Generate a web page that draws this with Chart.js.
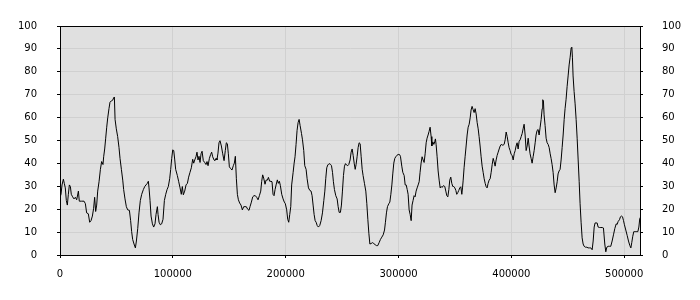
<!DOCTYPE html>
<html>
<head>
<meta charset="utf-8">
<script src="https://cdn.jsdelivr.net/npm/chart.js@4/dist/chart.umd.min.js"></script>
<style>
  html, body { margin: 0; padding: 0; background: #fff; }
  #wrap { width: 700px; height: 300px; position: relative; }
</style>
</head>
<body>
<div id="wrap"><canvas id="chart"></canvas></div>
<script>
// x positions of the samples, in thousands
const positionsK = [
  0,0.9,1.8,3.0,3.8,4.7,5.6,6.5,7.4,8.3,9.2,10.0,11.2,12.4,13.6,14.8,16.3,17.1,19.2,21.3,
  22.5,23.6,25.1,26.3,27.5,28.7,29.8,30.7,31.6,32.5,33.4,34.6,35.8,36.9,38.1,38.7,39.6,40.5,41.4,42.3,
  43.4,44.3,45.5,46.7,47.6,48.2,48.8,49.9,51.1,52.3,53.2,54.4,55.6,56.4,57.6,58.8,60.0,61.5,62.6,63.5,
  64.4,65.6,66.8,67.7,68.9,70.0,71.2,72.4,73.9,75.1,76.2,77.4,78.3,78.9,79.8,80.7,81.9,83.0,84.2,85.1,
  86.3,86.9,87.8,88.9,90.1,91.3,92.5,93.7,94.9,96.0,97.2,98.1,99.0,99.9,100.8,101.7,102.5,
  104.0,105.2,106.4,107.5,108.4,109.3,110.5,111.7,112.9,
  114.0,115.2,116.4,117.6,118.5,119.4,120.5,121.4,122.3,123.2,124.1,125.0,125.9,127.0,128.2,129.4,130.3,131.2,132.4,133.5,
  134.4,135.3,136.5,137.4,138.3,139.1,140.0,140.9,141.8,143.0,144.2,145.4,146.5,147.4,148.3,149.2,150.1,151.3,152.4,153.6,
  154.5,155.4,156.3,157.2,158.1,159.2,160.4,161.6,162.8,164.0,165.1,166.3,167.5,168.4,169.6,170.8,171.9,173.1,174.3,175.5,
  176.7,177.9,178.7,179.6,180.5,181.7,182.6,183.8,184.7,185.8,187.0,187.9,188.8,189.7,190.6,191.5,192.6,193.5,194.4,195.3,
  196.5,197.7,198.8,199.7,200.9,201.8,202.7,203.6,204.5,205.3,
  206.6,207.5,208.3,209.2,210.1,211.0,211.9,212.8,214.0,
  214.9,216.0,216.9,218.1,219.0,220.2,221.4,222.5,223.4,224.3,225.2,226.1,227.0,227.9,229.0,230.2,231.4,232.6,233.8,234.7,
  235.5,236.4,237.3,238.5,239.7,240.6,241.5,242.3,243.2,244.4,245.6,246.5,247.4,248.5,249.4,250.3,251.2,252.1,253.0,253.9,
  255.0,255.9,257.1,258.0,258.9,259.8,260.7,261.6,262.4,263.3,264.2,265.1,266.0,266.9,267.8,268.6,269.8,271.0,271.9,272.8,
  273.7,274.6,275.7,276.9,278.1,279.3,280.5,281.6,282.8,284.0,285.2,286.4,287.6,288.4,289.3,290.2,291.4,292.3,293.2,294.1,
  294.9,295.8,296.7,297.6,298.5,299.7,300.8,301.7,302.9,303.8,305.0,305.9,306.8,307.7,308.5,
  309.4,310.3,311.2,312.0,312.9,313.8,314.7,315.6,316.5,
  317.4,318.3,319.1,320.0,320.9,321.8,322.7,323.6,324.5,325.3,326.2,327.1,328.0,328.9,329.5,330.4,331.3,332.1,332.7,333.3,
  334.2,335.1,336.0,336.9,337.8,338.6,339.8,341.0,341.9,342.8,343.7,344.6,345.4,346.3,347.2,348.1,349.0,349.9,350.8,351.6,
  352.5,353.4,354.3,355.2,356.1,356.7,357.3,358.1,359.0,359.9,360.8,361.7,362.6,363.5,364.3,365.2,366.1,367.0,367.9,368.8,
  369.7,370.6,371.4,372.3,373.2,374.1,375.0,375.9,376.8,377.6,378.5,379.4,380.3,381.2,382.1,383.0,383.9,384.7,385.6,386.5,
  387.4,388.3,389.2,390.1,391.0,391.8,392.7,393.6,394.5,395.4,396.3,397.2,398.0,398.9,399.8,400.7,401.6,402.5,403.4,404.2,
  405.1,406.0,406.9,407.8,408.7,409.6,410.4,411.3,
  412.2,413.1,414.0,414.9,415.7,416.6,417.5,418.4,419.3,
  420.2,421.1,421.9,422.8,423.7,424.6,425.5,426.4,427.3,427.8,428.4,429.0,429.9,430.8,431.7,432.6,433.5,434.4,435.2,436.1,
  437.0,437.9,438.8,439.7,440.6,441.4,442.3,443.2,444.1,445.0,445.9,446.8,447.6,448.5,449.4,450.3,451.2,452.1,453.0,453.6,
  454.1,454.7,455.6,456.5,457.4,458.3,459.2,460.1,460.9,461.8,462.7,463.6,464.5,465.7,466.9,468.0,469.2,470.4,471.6,472.5,
  473.4,474.2,475.1,476.0,476.9,478.1,479.3,480.5,481.6,482.8,483.7,484.6,485.8,487.0,488.1,489.3,490.5,491.7,492.9,493.7,
  494.6,495.8,496.7,497.6,498.5,499.4,500.2,501.4,502.6,503.8,505.0,505.9,506.7,507.6,508.5,509.4,510.3,511.2,512.1,513.0,
  513.8,514.0
];

// measured level (0..100) at each position
const levels = [
  25.2,26.5,30.6,33.1,31.3,29.3,23.8,21.8,26.5,30.6,29.9,26.5,25.4,24.5,25.2,24.1,27.9,23.5,23.5,23.5,
  22.4,18.4,18.0,14.3,15.0,17.0,20.4,25.2,19.0,21.8,27.9,32.0,37.4,40.8,39.5,42.9,46.3,51.0,55.8,59.9,
  63.9,66.7,67.3,67.6,68.7,69.0,59.2,55.1,51.7,46.9,42.2,37.4,32.7,28.6,24.5,21.1,19.7,19.5,15.0,10.2,
  6.8,4.8,3.1,6.1,11.6,18.4,23.8,26.5,28.6,29.9,30.6,31.3,32.2,29.3,23.8,17.0,13.6,12.2,13.6,17.7,
  21.1,17.7,14.3,13.2,13.6,15.6,23.8,26.5,28.6,29.9,33.3,37.4,42.2,45.9,45.6,41.5,37.4,
  34.7,32.0,29.3,26.5,29.9,26.3,27.9,30.6,31.3,
  34.0,36.1,38.1,41.8,40.1,41.5,42.9,44.9,41.5,43.1,40.4,44.2,45.3,41.2,40.4,39.5,40.8,39.0,42.2,43.9,
  44.9,42.9,41.5,41.2,42.2,41.5,44.5,49.0,49.9,47.6,44.2,41.2,45.6,49.0,48.6,44.2,38.5,37.7,37.1,39.0,
  40.1,43.1,33.3,26.5,24.1,22.7,21.8,19.7,21.1,21.1,21.1,20.0,19.5,21.1,23.1,25.4,25.9,25.9,25.2,24.1,
  25.9,27.9,32.0,35.0,33.6,30.9,32.7,32.7,33.9,32.2,32.2,32.0,26.5,25.9,28.6,30.6,32.8,31.3,32.2,30.3,
  26.5,24.5,23.1,22.4,19.7,15.6,14.3,17.7,21.1,30.6,
  36.1,40.1,42.9,48.3,54.4,57.8,59.2,56.5,53.1,
  50.3,45.6,39.0,37.4,33.3,29.3,28.2,27.9,25.9,21.8,17.7,15.0,14.3,12.9,12.2,12.9,15.0,18.4,23.8,27.9,
  33.3,38.1,39.3,39.9,39.6,39.0,36.1,32.0,28.6,25.9,24.5,21.1,18.6,18.6,21.8,27.9,34.7,38.8,39.9,39.3,
  39.0,39.5,41.5,44.9,46.3,43.5,40.1,37.4,39.5,42.9,46.9,49.0,48.6,42.9,37.4,34.7,31.3,27.9,22.4,15.6,
  9.5,4.8,5.0,5.4,5.0,4.5,4.1,4.1,5.4,6.8,7.8,8.8,10.9,14.3,18.4,21.1,22.4,23.1,26.5,30.6,
  35.4,40.1,42.2,42.9,43.5,43.9,43.9,43.1,38.8,36.1,34.7,30.6,30.6,28.6,26.5,
  19.7,17.7,15.0,21.8,23.8,25.9,25.4,27.9,29.3,
  30.6,32.0,36.1,40.1,42.9,41.5,40.4,44.2,49.0,51.0,52.4,54.0,55.8,51.7,47.6,49.4,48.3,49.4,50.7,48.3,
  42.9,36.7,32.7,29.3,29.9,29.5,30.3,29.9,27.9,25.9,25.4,28.6,32.7,34.0,31.3,29.9,29.9,29.3,28.2,26.5,
  27.2,28.2,29.3,29.8,26.5,29.3,32.7,38.1,42.9,47.6,52.4,55.8,57.1,59.9,63.3,64.9,63.5,62.2,63.9,61.6,
  57.8,55.1,51.7,47.6,42.9,38.8,36.1,33.3,31.3,29.9,29.3,31.3,32.7,33.3,36.1,39.5,42.2,40.8,38.8,41.5,
  43.5,44.9,46.3,47.6,48.3,48.0,48.0,48.3,50.3,53.7,51.7,49.0,46.9,45.6,43.9,43.5,41.5,44.2,45.6,47.6,
  49.0,46.3,49.7,50.3,51.7,53.1,55.1,57.1,
  52.4,45.6,47.6,51.0,47.6,44.2,42.2,40.1,42.9,
  45.6,49.0,52.4,54.4,54.8,52.4,55.8,59.2,63.9,67.8,67.3,61.2,56.5,51.0,49.0,48.3,46.9,44.2,42.2,39.5,
  36.1,30.6,27.2,29.3,32.0,35.4,36.7,37.4,41.5,46.9,52.4,59.2,63.9,68.0,73.5,78.2,83.0,86.4,90.5,90.7,
  86.4,78.2,71.4,66.0,59.2,51.0,41.5,32.0,22.4,14.3,7.5,4.8,3.8,3.4,3.4,3.1,3.1,3.1,2.3,6.1,
  12.2,14.0,14.0,14.0,12.2,12.0,12.0,12.0,11.8,4.8,1.4,3.4,3.8,3.8,3.8,6.1,8.8,11.6,13.6,13.3,
  14.6,15.4,16.7,17.0,16.7,15.0,13.2,10.9,8.6,6.1,4.1,3.1,5.4,8.2,10.2,10.2,10.2,10.2,10.2,12.2,
  15.9,16.3
];

// axis ticks
const xTicks = [0, 100000, 200000, 300000, 400000, 500000];
const yTicks = [0, 10, 20, 30, 40, 50, 60, 70, 80, 90, 100];
const xMax = 514000;

// background + frame around the plot area
const plotFrame = {
    id: 'plotFrame',
    beforeDraw(chart) {
        const { ctx, chartArea: a } = chart;
        ctx.save();
        ctx.fillStyle = '#e0e0e0';
        ctx.fillRect(a.left, a.top, a.right - a.left, a.bottom - a.top);
        ctx.restore();
    },
    afterDraw(chart) {
        const { ctx, chartArea: a } = chart;
        ctx.save();
        ctx.strokeStyle = '#000';
        ctx.lineWidth = 1;
        ctx.strokeRect(Math.round(a.left) + 0.5, Math.round(a.top) + 0.5,
            Math.round(a.right - a.left), Math.round(a.bottom - a.top));
        ctx.restore();
    }
};

Chart.defaults.font.family = '"DejaVu Sans", Verdana, sans-serif';
Chart.defaults.font.size = 10;
Chart.defaults.color = '#000';

const points = positionsK.map((x, i) => ({ x: x * 1000, y: levels[i] }));

const yAxis = (position, grid) => ({
    type: 'linear',
    position: position,
    min: yTicks[0],
    max: yTicks[yTicks.length - 1],
    afterFit: s => { s.width = 60; },
    afterBuildTicks: s => { s.ticks = yTicks.map(v => ({ value: v })); },
    ticks: { padding: position === 'left' ? 20 : 19 },
    grid: {
        display: true,
        drawOnChartArea: grid,
        color: '#d0d0d0',
        tickColor: '#000',
        tickLength: 3
    },
    border: { display: true, color: '#000' }
});

new Chart(document.getElementById('chart'), {
    type: 'line',
    data: {
        datasets: [{
            data: points,
            borderColor: '#000',
            borderWidth: 1,
            pointRadius: 0,
            tension: 0,
            fill: false
        }]
    },
    options: {
        responsive: true,
        maintainAspectRatio: false,
        animation: false,
        layout: { padding: { top: 10, left: 0, right: 0, bottom: 0 } },
        plugins: {
            legend: { display: false },
            tooltip: { enabled: false }
        },
        scales: {
            x: {
                type: 'linear',
                min: 0,
                max: xMax,
                afterFit: s => { s.height = 45; },
                afterBuildTicks: s => { s.ticks = xTicks.map(v => ({ value: v })); },
                ticks: {
                    maxRotation: 0,
                    autoSkip: false,
                    padding: 10,
                    callback: v => String(v)
                },
                grid: { color: '#d0d0d0', tickColor: '#000', tickLength: 3 },
                border: { display: true, color: '#000' }
            },
            y: yAxis('left', true),
            y2: yAxis('right', false)
        }
    },
    plugins: [plotFrame]
});
</script>
</body>
</html>
